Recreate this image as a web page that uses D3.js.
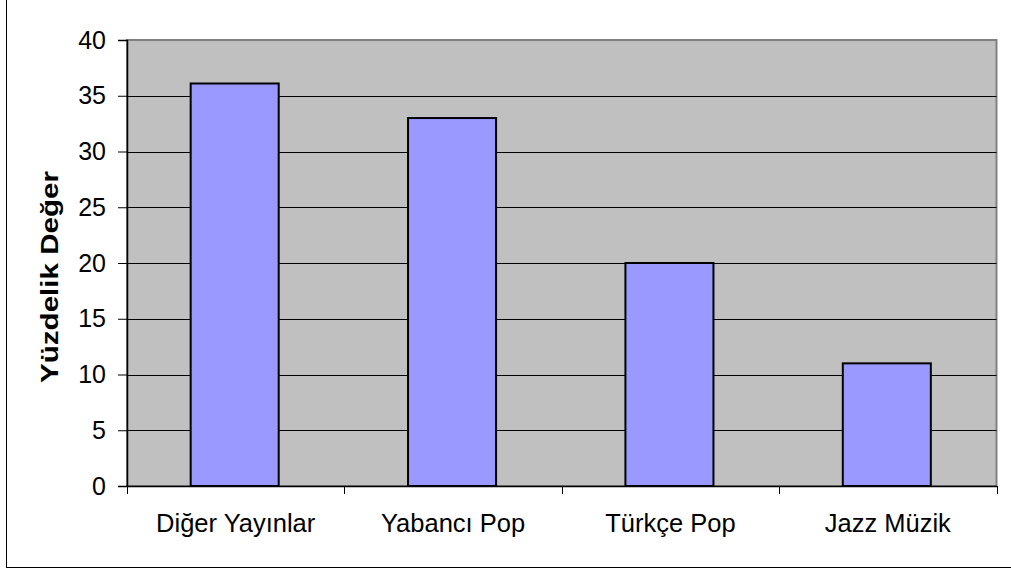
<!DOCTYPE html>
<html><head><meta charset="utf-8">
<script src="https://cdn.jsdelivr.net/npm/d3@7/dist/d3.min.js"></script>
<style>body{margin:0;background:#fff}svg{display:block}text{font-family:"Liberation Sans",Arial,sans-serif;fill:#000}</style>
</head><body>
<script>
const categories = ["Diğer Yayınlar", "Yabancı Pop", "Türkçe Pop", "Jazz Müzik"];
const values = [36.1, 33, 20, 11];
const yTicks = [0, 5, 10, 15, 20, 25, 30, 35, 40];
const yTitle = "Yüzdelik Değer";

const W = 1011, H = 571;
const m = {left: 127, right: 1011 - 996.5, top: 40, bottom: 571 - 486};
const svg = d3.select("body").append("svg").attr("width", W).attr("height", H);

// outer frame
svg.append("rect").attr("x", 6.5).attr("y", -10).attr("width", 1030).attr("height", 567.5 + 10)
  .attr("fill", "none").attr("stroke", "#000").attr("stroke-width", 1);

const x = d3.scaleBand().domain(categories).range([m.left, W - m.right]).paddingInner(0).paddingOuter(0);
const y = d3.scaleLinear().domain([0, 40]).range([H - m.bottom, m.top]);

// plot area
svg.append("rect").attr("x", m.left).attr("y", m.top).attr("width", W - m.right - m.left)
  .attr("height", H - m.bottom - m.top).attr("fill", "#C0C0C0").attr("stroke", "#808080").attr("stroke-width", 2);

// grid
svg.append("g").selectAll("line").data(yTicks.filter(d => d > 0 && d < 40)).join("line")
  .attr("x1", m.left).attr("x2", W - m.right)
  .attr("y1", d => Math.round(y(d)) + 0.5).attr("y2", d => Math.round(y(d)) + 0.5)
  .attr("stroke", "#000").attr("stroke-width", 1);

// bars
const bw = x.bandwidth() * 0.405;
svg.append("g").selectAll("rect").data(values).join("rect")
  .attr("x", (d, i) => x(categories[i]) + x.bandwidth() / 2 - bw / 2 - 1)
  .attr("y", d => y(d))
  .attr("width", bw)
  .attr("height", d => y(0) - y(d))
  .attr("fill", "#9999FF").attr("stroke", "#000").attr("stroke-width", 2);

// y axis
const yAxis = svg.append("g").attr("transform", `translate(${m.left},0)`)
  .call(d3.axisLeft(y).tickValues(yTicks).tickSize(9).tickPadding(12));
yAxis.select(".domain").attr("stroke", "#000").attr("stroke-width", 1.5);
yAxis.selectAll(".tick line").attr("stroke", "#000");
yAxis.selectAll("text").attr("font-size", 25).attr("font-family", "Liberation Sans, Arial, sans-serif").attr("fill", "#000");

// x axis
const xAxis = svg.append("g").attr("transform", `translate(0,${H - m.bottom})`)
  .call(d3.axisBottom(x).tickSize(0).tickPadding(28));
xAxis.select(".domain").attr("stroke", "#000").attr("stroke-width", 1.5);
xAxis.selectAll("text").attr("font-size", 25.5).attr("font-family", "Liberation Sans, Arial, sans-serif").attr("fill", "#000");
// x tick marks at category boundaries
const bounds = categories.map(c => x(c)).concat([x(categories[categories.length - 1]) + x.bandwidth()]);
svg.append("g").selectAll("line").data(bounds).join("line")
  .attr("x1", d => Math.round(d) + 0.5).attr("x2", d => Math.round(d) + 0.5)
  .attr("y1", H - m.bottom).attr("y2", H - m.bottom + 8)
  .attr("stroke", "#000").attr("stroke-width", 1);

// y title
svg.append("text").attr("transform", "translate(58,277) rotate(-90)")
  .attr("text-anchor", "middle").attr("font-weight", "bold").attr("font-size", 24)
  .attr("textLength", 212).attr("lengthAdjust", "spacingAndGlyphs")
  .text(yTitle);
</script>
</body></html>
